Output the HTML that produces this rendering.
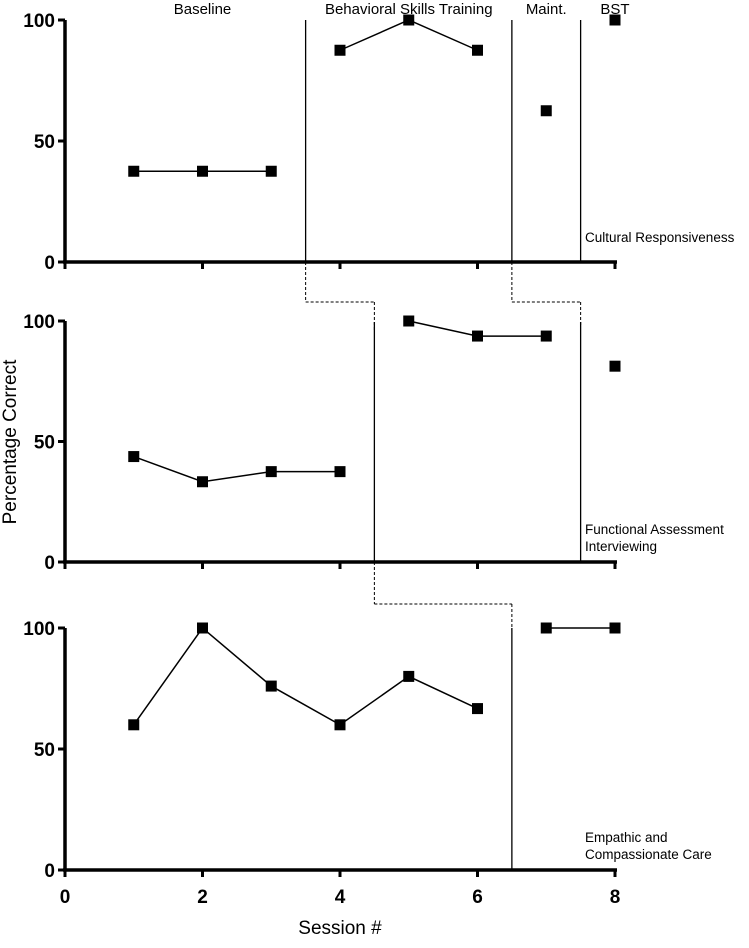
<!DOCTYPE html>
<html><head><meta charset="utf-8"><style>
body{margin:0;background:#fff}
svg text{font-family:"Liberation Sans",Arial,sans-serif}
</style></head><body>
<svg id="c" width="749" height="943" viewBox="0 0 749 943"></svg>
<script>
const sessions=[1,2,3,4,5,6,7,8];
const cultural=[37.5,37.5,37.5,87.5,100,87.5,62.5,100];
const functional=[43.75,33.3,37.5,37.5,100,93.75,93.75,81.25];
const empathic=[60,100,76,60,80,66.7,100,100];
const segCultural=[[0,3],[3,6],[6,7],[7,8]];
const segFunctional=[[0,4],[4,7],[7,8]];
const segEmpathic=[[0,6],[6,8]];
const xTicks=[0,2,4,6,8];
const yTicks=[0,50,100];
const phaseLabels=["Baseline","Behavioral Skills Training","Maint.","BST"];
const phaseLabelPos=[2,5,7,8];
const svg=document.getElementById('c');
const NS='http://www.w3.org/2000/svg';
const X=v=>65+v*68.75;
const panels=[{top:20,bot:262,data:cultural,seg:segCultural,label:["Cultural Responsiveness"],name:'cultural'},
{top:321,bot:562,data:functional,seg:segFunctional,label:["Functional Assessment","Interviewing"],name:'functional'},
{top:628,bot:870,data:empathic,seg:segEmpathic,label:["Empathic and","Compassionate Care"],name:'empathic'}];
function el(t,a,p){const e=document.createElementNS(NS,t);for(const k in a)e.setAttribute(k,a[k]);(p||svg).appendChild(e);return e;}
panels.forEach((p,pi)=>{
 const Y=v=>p.bot-(v/100)*(p.bot-p.top);
 const g=el('g',{});
 
 
 let a=el('line',{x1:65,y1:p.top,x2:65,y2:p.bot+1.5,stroke:'#000','stroke-width':3.5},g);
 
 a=el('line',{x1:63,y1:p.bot,x2:617,y2:p.bot,stroke:'#000','stroke-width':3.5},g);
 
 yTicks.forEach(t=>{el('line',{x1:58,y1:Y(t),x2:65,y2:Y(t),stroke:'#000','stroke-width':3},g);
  const tx=el('text',{x:55,y:Y(t)+7,'text-anchor':'end','font-size':19,'font-weight':'bold'},g);tx.textContent=t;
  });
 xTicks.forEach(t=>{el('line',{x1:X(t),y1:p.bot,x2:X(t),y2:p.bot+7,stroke:'#000','stroke-width':3},g);
  if(pi==2){const tx=el('text',{x:X(t),y:p.bot+33,'text-anchor':'middle','font-size':19,'font-weight':'bold'},g);tx.textContent=t;
  }});
 p.seg.forEach(s=>{const pts=[];for(let i=s[0];i<s[1];i++)pts.push(X(sessions[i])+','+Y(p.data[i]));
  if(pts.length>1){const l=el('polyline',{points:pts.join(' '),fill:'none',stroke:'#000','stroke-width':1.5},g);
  }});
 p.data.forEach((v,i)=>{const r=el('rect',{x:X(sessions[i])-5.5,y:Y(v)-5.5,width:11,height:11,fill:'#000'},g);
  });
 p.label.forEach((s,i)=>{const tx=el('text',{x:585,y:p.bot-24+i*17+(p.label.length==1?4:-4),'font-size':13.5},g);tx.textContent=s;
  });
});
function ln(x1,y1,x2,y2,dash,name){const l=el('line',{x1,y1,x2,y2,stroke:'#000','stroke-width':dash?1:1.3,'stroke-dasharray':dash?'3,2':'none'});
 }
ln(X(3.5),20,X(3.5),262,false,'phase-line');
ln(X(6.5),20,X(6.5),262,false,'phase-line');
ln(X(7.5),20,X(7.5),262,false,'phase-line');
const dash1=[[X(3.5),262,X(3.5),302],[X(3.5),302,X(4.5),302],[X(4.5),302,X(4.5),330],
[X(6.5),262,X(6.5),302],[X(6.5),302,X(7.5),302],[X(7.5),302,X(7.5),325],
[X(4.5),562,X(4.5),604],[X(4.5),604,X(6.5),604],[X(6.5),604,X(6.5),630]];
dash1.forEach(d=>ln(...d,true,'phase-connector'));
ln(X(4.5),322,X(4.5),562,false,'phase-line');
ln(X(7.5),322,X(7.5),562,false,'phase-line');
ln(X(6.5),628,X(6.5),870,false,'phase-line');
phaseLabels.forEach((s,i)=>{const tx=el('text',{x:X(phaseLabelPos[i]),y:14,'text-anchor':'middle','font-size':15});tx.textContent=s;
 });
let t=el('text',{x:340,y:934,'text-anchor':'middle','font-size':19});t.textContent='Session #';

t=el('text',{x:0,y:0,'text-anchor':'middle','font-size':19,transform:'translate(16,442) rotate(-90)'});t.textContent='Percentage Correct';

</script>
</body></html>
